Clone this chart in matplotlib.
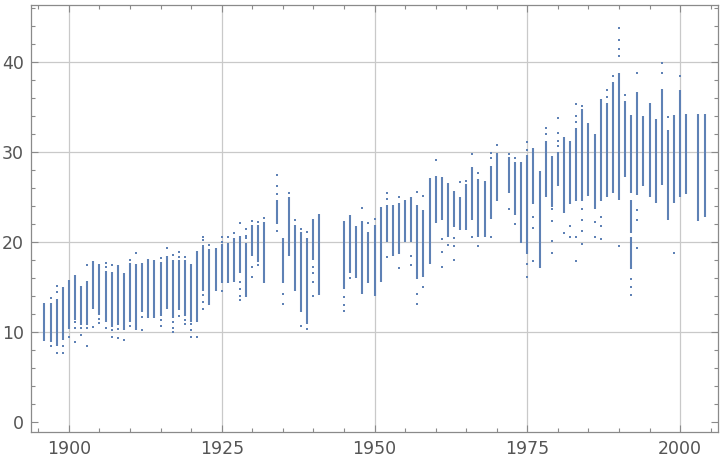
import matplotlib
matplotlib.use("Agg")
import matplotlib.pyplot as plt
from matplotlib.ticker import MultipleLocator

# ---- data: dense runs of points per year (year, low, high) ----
seg_year = [1896, 1897, 1898, 1899, 1900, 1901, 1902, 1903, 1904, 1905, 1906, 1907, 1908, 1909,
            1910, 1911, 1912, 1913, 1914, 1915, 1916, 1917, 1918, 1919, 1920, 1921, 1922, 1923,
            1924, 1925, 1926, 1927, 1928, 1929, 1930, 1931, 1932, 1934, 1935, 1936, 1937, 1938,
            1939, 1940, 1941, 1945, 1946, 1947, 1948, 1949, 1950, 1951, 1952, 1953, 1954, 1955,
            1956, 1957, 1958, 1959, 1960, 1961, 1962, 1963, 1964, 1965, 1966, 1967, 1968, 1969,
            1970, 1972, 1973, 1974, 1975, 1976, 1977, 1978, 1979, 1980, 1981, 1982, 1983, 1984,
            1985, 1986, 1987, 1988, 1989, 1990, 1991, 1992, 1992, 1992, 1993, 1994, 1995, 1996,
            1997, 1998, 1999, 2000, 2001, 2003, 2004]
seg_low = [9.0, 8.9, 8.4, 9.1, 10.3, 11.3, 10.8, 10.8, 12.6, 11.9, 11.1, 10.6, 10.8, 10.2,
           11.1, 10.2, 12.2, 11.5, 11.5, 11.8, 12.6, 11.5, 12.4, 11.8, 11.1, 11.1, 14.6, 13.0,
           14.5, 15.4, 15.4, 15.6, 16.5, 13.9, 18.4, 17.8, 15.4, 22.0, 15.4, 18.4, 14.5, 12.2,
           10.9, 18.0, 14.1, 14.8, 16.6, 16.0, 14.2, 15.4, 14.0, 15.5, 20.0, 18.4, 18.7, 20.0,
           20.0, 15.9, 16.1, 17.6, 22.1, 22.4, 20.6, 21.7, 21.3, 21.3, 22.4, 20.6, 20.5, 22.6,
           24.5, 25.4, 23.0, 19.9, 18.7, 24.2, 17.1, 25.0, 23.9, 26.2, 23.2, 24.2, 24.5, 24.5,
           25.1, 23.6, 24.5, 25.0, 25.4, 24.6, 27.2, 25.4, 21.0, 17.0, 25.2, 26.2, 25.0, 24.3,
           26.3, 22.4, 24.3, 25.0, 25.3, 22.3, 22.8]
seg_high = [13.2, 13.2, 13.7, 15.0, 15.8, 16.3, 15.1, 15.7, 17.9, 17.5, 16.8, 16.7, 17.4, 16.5,
            17.7, 17.5, 17.7, 18.1, 18.0, 17.8, 18.4, 18.0, 18.0, 18.0, 17.5, 19.0, 19.4, 19.2,
            19.3, 19.8, 19.9, 20.4, 20.7, 19.9, 21.9, 21.9, 22.2, 24.7, 20.4, 25.0, 21.9, 21.1,
            20.4, 22.6, 23.1, 22.3, 23.0, 21.8, 22.3, 21.1, 21.9, 23.9, 24.1, 24.1, 24.3, 24.7,
            25.0, 24.1, 23.5, 27.1, 27.3, 27.2, 26.5, 25.7, 25.0, 26.4, 28.3, 27.0, 26.8, 28.4,
            29.9, 29.4, 28.9, 28.9, 29.6, 30.4, 27.9, 31.2, 29.5, 30.0, 31.6, 31.2, 32.6, 34.7,
            33.2, 32.0, 35.9, 35.4, 37.8, 38.8, 35.6, 34.1, 24.6, 20.5, 36.6, 34.0, 35.4, 33.7,
            37.0, 32.4, 34.1, 36.9, 34.2, 34.2, 34.2]

# ---- data: isolated points (year, value) ----
pt_year = [1897, 1897, 1898, 1898, 1898, 1899, 1899, 1900, 1901, 1901, 1901, 1902, 1902,
           1903, 1903, 1903, 1904, 1905, 1905, 1906, 1906, 1906, 1907, 1907, 1907, 1908, 1908,
           1909, 1910, 1910, 1911, 1912, 1912, 1915, 1915, 1915, 1916, 1917, 1917, 1917, 1917,
           1918, 1918, 1918, 1919, 1919, 1919, 1920, 1920, 1920, 1921, 1922, 1922, 1922, 1922,
           1922, 1922, 1923, 1925, 1925, 1925, 1926, 1927, 1928, 1928, 1928, 1928, 1928, 1929,
           1929, 1929, 1930, 1930, 1930, 1931, 1931, 1932, 1934, 1934, 1934, 1934, 1935, 1935,
           1936, 1937, 1938, 1938, 1939, 1939, 1940, 1940, 1940, 1940, 1945, 1945, 1945, 1946,
           1948, 1949, 1950, 1952, 1952, 1952, 1954, 1954, 1956, 1956, 1957, 1957, 1957, 1958,
           1958, 1960, 1961, 1961, 1961, 1962, 1963, 1963, 1963, 1964, 1965, 1966, 1966, 1967,
           1967, 1969, 1969, 1969, 1970, 1972, 1972, 1973, 1973, 1975, 1975, 1975, 1975, 1976,
           1976, 1976, 1978, 1978, 1979, 1979, 1979, 1979, 1980, 1980, 1980, 1980, 1981, 1982,
           1982, 1983, 1983, 1983, 1983, 1983, 1984, 1984, 1984, 1984, 1984, 1986, 1986, 1987,
           1987, 1987, 1988, 1988, 1989, 1990, 1990, 1990, 1990, 1990, 1991, 1992, 1992, 1992,
           1993, 1993, 1993, 1993, 1997, 1997, 1998, 1999, 2000]
pt_val = [13.8, 8.4, 15.1, 14.4, 7.7, 8.4, 7.7, 9.4, 11.1, 10.5, 8.9, 10.5, 9.7,
          17.4, 10.5, 8.4, 10.6, 11.4, 11.0, 17.7, 17.2, 10.5, 17.4, 10.2, 9.5, 10.3, 9.3,
          9.1, 18.0, 10.7, 18.8, 11.7, 10.2, 18.2, 11.3, 10.7, 19.3, 18.6, 11.1, 10.5, 10.0,
          18.9, 18.3, 11.8, 18.3, 11.3, 10.9, 10.9, 10.2, 9.5, 9.5, 20.6, 20.2, 19.6, 14.1,
          13.3, 12.6, 19.7, 20.6, 20.0, 14.5, 20.5, 21.0, 22.1, 15.6, 14.8, 14.0, 13.5, 21.4,
          20.7, 20.4, 22.3, 17.2, 16.1, 22.2, 17.4, 22.7, 27.4, 26.2, 25.3, 21.2, 14.2, 13.1,
          25.4, 22.4, 21.4, 10.7, 21.1, 10.3, 17.2, 16.5, 15.6, 14.0, 13.9, 13.0, 12.3, 16.0,
          23.8, 22.1, 22.5, 25.4, 24.8, 18.3, 25.0, 17.1, 18.4, 17.4, 25.5, 14.2, 13.1, 25.1,
          15.0, 29.1, 20.3, 18.9, 17.2, 19.7, 20.4, 19.5, 18.0, 26.7, 26.8, 29.8, 20.6, 27.6,
          19.6, 29.9, 29.3, 20.6, 30.8, 29.8, 23.7, 29.3, 22.0, 31.1, 30.2, 17.5, 16.1, 22.8,
          21.5, 17.9, 32.6, 32.0, 23.7, 22.3, 20.1, 18.8, 33.8, 32.1, 31.2, 30.6, 21.0, 21.8,
          20.6, 35.3, 34.0, 33.3, 20.6, 17.9, 35.1, 23.6, 22.4, 21.2, 19.8, 22.2, 20.6, 22.8,
          21.8, 20.3, 36.9, 36.1, 38.4, 43.8, 42.4, 41.4, 40.6, 19.5, 36.3, 15.9, 15.0, 14.1,
          38.8, 23.5, 22.4, 19.3, 39.9, 38.8, 33.9, 18.8, 38.4]

x_ticks = [1900, 1925, 1950, 1975, 2000]
y_ticks = [0, 10, 20, 30, 40]

# ---- style ----
point_color = "#5E81B5"
frame_color = "#8a8a8a"
label_color = "#555555"
grid_color = "#c9c9c9"

fig = plt.figure(figsize=(7.2, 4.62), dpi=100)
ax = fig.add_axes([31 / 720, 1 - 432 / 462, (718 - 31) / 720, (432 - 5) / 462])

ax.vlines(seg_year, seg_low, seg_high, colors=point_color, linewidth=1.5,
          capstyle="butt", zorder=3)
ax.plot(pt_year, pt_val, linestyle="none", marker="s", markersize=1.6,
        markeredgewidth=0, color=point_color, zorder=3)

ax.set_xlim(1893.8, 2006.2)
ax.set_ylim(-1.1, 46.3)

ax.set_xticks(x_ticks)
ax.set_yticks(y_ticks)
ax.xaxis.set_minor_locator(MultipleLocator(5))
ax.yaxis.set_minor_locator(MultipleLocator(2))

for v in x_ticks:
    ax.axvline(v, color=grid_color, linewidth=0.9, zorder=1)
for v in y_ticks[1:]:
    ax.axhline(v, color=grid_color, linewidth=0.9, zorder=1)

ax.tick_params(which="both", direction="in", top=True, right=True,
               color=frame_color, width=0.8, labelcolor=label_color, labelsize=12.5)
ax.tick_params(which="major", length=5)
ax.tick_params(which="minor", length=3)
ax.tick_params(axis="x", pad=6)
ax.tick_params(axis="y", pad=5)
for s in ax.spines.values():
    s.set_color(frame_color)
    s.set_linewidth(0.9)

fig.savefig("out.png", dpi=100)
